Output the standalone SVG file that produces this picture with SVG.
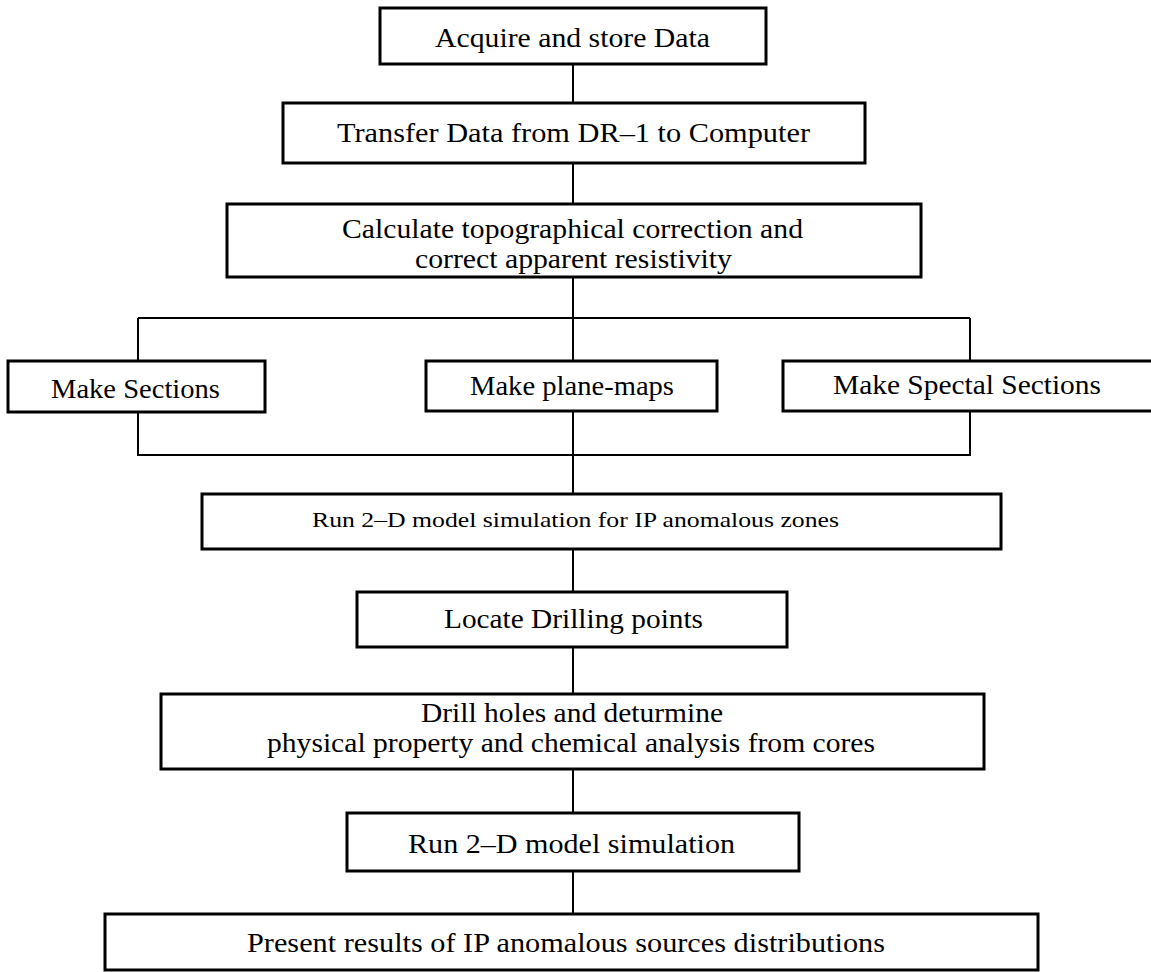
<svg xmlns="http://www.w3.org/2000/svg" width="1151" height="972" viewBox="0 0 1151 972">
<style>
.box{fill:#fff;stroke:#000;stroke-width:3}
.ln{fill:none;stroke:#000;stroke-width:2}
text{font-family:"Liberation Serif","Times New Roman",serif;font-size:27px;fill:#000;text-anchor:middle}
.sm{font-size:21px}
</style>
<rect width="1151" height="972" fill="#fff"/>
<g id="connectors">
<path class="ln" d="M573 64V103M573 163V204M573 277V361M138 318H970M138 318V361M970 318V361M138 412V455H970V411M573 411V494M573 549V592M573 647V694M573 769V813M573 871V914"/>
</g>
<g id="n1"><rect class="box" x="380" y="8" width="386" height="56"/><text x="572.5" y="47" textLength="275" lengthAdjust="spacingAndGlyphs">Acquire and store Data</text></g>
<g id="n2"><rect class="box" x="283" y="103" width="582" height="60"/><text x="573.5" y="142" textLength="473" lengthAdjust="spacingAndGlyphs">Transfer Data from DR–1 to Computer</text></g>
<g id="n3"><rect class="box" x="227" y="204" width="694" height="73"/><text x="572.5" y="238" textLength="461" lengthAdjust="spacingAndGlyphs">Calculate topographical correction and</text><text x="573.5" y="268" textLength="317" lengthAdjust="spacingAndGlyphs">correct apparent resistivity</text></g>
<g id="n4"><rect class="box" x="8" y="361" width="257" height="51"/><text x="135.5" y="398" textLength="169" lengthAdjust="spacingAndGlyphs">Make Sections</text></g>
<g id="n5"><rect class="box" x="426" y="361" width="291" height="50"/><text x="572" y="395" textLength="204" lengthAdjust="spacingAndGlyphs">Make plane-maps</text></g>
<g id="n6"><rect class="box" x="783" y="361" width="380" height="50"/><text x="967" y="394" textLength="268" lengthAdjust="spacingAndGlyphs">Make Spectal Sections</text></g>
<g id="n7"><rect class="box" x="202" y="494" width="799" height="55"/><text class="sm" x="575.5" y="527" textLength="527" lengthAdjust="spacingAndGlyphs">Run 2–D model simulation for IP anomalous zones</text></g>
<g id="n8"><rect class="box" x="357" y="592" width="430" height="55"/><text x="573.5" y="628" textLength="259" lengthAdjust="spacingAndGlyphs">Locate Drilling points</text></g>
<g id="n9"><rect class="box" x="161" y="694" width="823" height="75"/><text x="572" y="722" textLength="302" lengthAdjust="spacingAndGlyphs">Drill holes and deturmine</text><text x="571" y="752" textLength="608" lengthAdjust="spacingAndGlyphs">physical property and chemical analysis from cores</text></g>
<g id="n10"><rect class="box" x="347" y="813" width="452" height="58"/><text x="571.5" y="853" textLength="327" lengthAdjust="spacingAndGlyphs">Run 2–D model simulation</text></g>
<g id="n11"><rect class="box" x="105" y="914" width="933" height="56"/><text x="566" y="952" textLength="638" lengthAdjust="spacingAndGlyphs">Present results of IP anomalous sources distributions</text></g>
</svg>
